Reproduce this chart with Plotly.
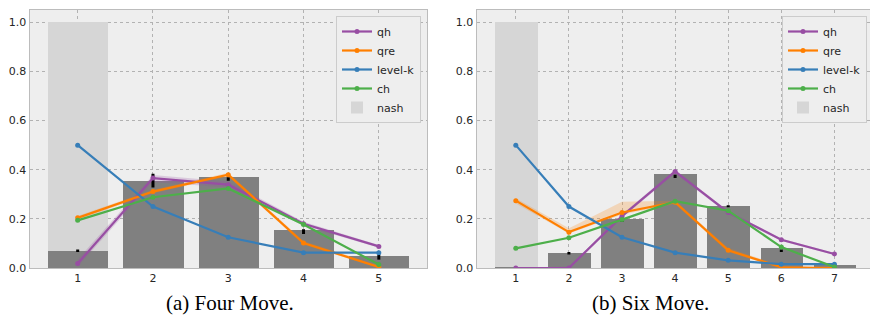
import plotly.graph_objects as go

# ---------------- data ----------------
moves_four = [1, 2, 3, 4, 5]
obs_four = [0.071, 0.355, 0.372, 0.153, 0.050]
nash_four = [1.0, 0.0, 0.0, 0.0, 0.0]
qh_four = [0.018, 0.366, 0.339, 0.180, 0.088]
qre_four = [0.204, 0.311, 0.380, 0.102, 0.004]
levelk_four = [0.5, 0.25, 0.125, 0.0625, 0.0625]
ch_four = [0.194, 0.288, 0.324, 0.177, 0.014]
err_mid_four = [0.070, 0.356, 0.362, 0.148, 0.044]
err_half_four = [0.005, 0.028, 0.007, 0.010, 0.010]

moves_six = [1, 2, 3, 4, 5, 6, 7]
obs_six = [0.004, 0.062, 0.200, 0.383, 0.253, 0.080, 0.014]
nash_six = [1.0, 0.0, 0.0, 0.0, 0.0, 0.0, 0.0]
qh_six = [0.0, 0.0, 0.211, 0.393, 0.226, 0.115, 0.057]
qre_six = [0.274, 0.146, 0.226, 0.268, 0.072, 0.003, 0.0]
levelk_six = [0.5, 0.25, 0.125, 0.0625, 0.03125, 0.015625, 0.015625]
ch_six = [0.080, 0.123, 0.197, 0.272, 0.233, 0.085, 0.004]
err_mid_six = [0.004, 0.060, 0.192, 0.373, 0.251, 0.070, 0.014]
err_half_six = [0.0, 0.005, 0.005, 0.007, 0.004, 0.005, 0.0]

# uncertainty bands around the model curves
qh_lo_four = [0.005, 0.350, 0.328, 0.172, 0.082]
qh_hi_four = [0.035, 0.378, 0.352, 0.188, 0.094]
qre_lo_four = [0.196, 0.304, 0.372, 0.095, 0.0]
qre_hi_four = [0.212, 0.318, 0.388, 0.110, 0.010]
qre_lo_six = [0.262, 0.140, 0.218, 0.260, 0.064, 0.0, 0.0]
qre_hi_six = [0.284, 0.162, 0.270, 0.274, 0.082, 0.008, 0.0]
qh_lo_six = [0.0, 0.0, 0.203, 0.385, 0.220, 0.110, 0.053]
qh_hi_six = [0.0, 0.006, 0.219, 0.401, 0.232, 0.120, 0.061]

captions = ["(a) Four Move.", "(b) Six Move."]

# ---------------- style ----------------
C_QH = "#984ea3"
C_QRE = "#ff7f00"
C_LK = "#377eb8"
C_CH = "#4daf4a"
C_OBS = "#808080"
C_NASH = "#d6d6d6"
BG = "#eeeeee"
SPINE = "#bcbcbc"
GRID = "#b2b2b2"
TXT = "#262626"

fig = go.Figure()


def rgba(hex_color, a):
    h = hex_color.lstrip("#")
    r, g, b = int(h[0:2], 16), int(h[2:4], 16), int(h[4:6], 16)
    return f"rgba({r},{g},{b},{a})"


def add_panel(xa, ya, leg, moves, obs, nash, series, bands, err_mid, err_half):
    # nash equilibrium bars (behind) and observed frequencies
    fig.add_trace(go.Bar(x=moves, y=nash, width=0.8, marker=dict(color=C_NASH, line_width=0),
                         name="nash", xaxis=xa, yaxis=ya, legend=leg, legendrank=5))
    fig.add_trace(go.Bar(x=moves, y=obs, width=0.8, marker=dict(color=C_OBS, line_width=0),
                         showlegend=False, xaxis=xa, yaxis=ya))
    # shaded bands
    for lo, hi, col in bands:
        fig.add_trace(go.Scatter(x=moves, y=lo, mode="lines", line=dict(width=0),
                                 showlegend=False, hoverinfo="skip", xaxis=xa, yaxis=ya))
        fig.add_trace(go.Scatter(x=moves, y=hi, mode="lines", line=dict(width=0),
                                 fill="tonexty", fillcolor=rgba(col, 0.22),
                                 showlegend=False, hoverinfo="skip", xaxis=xa, yaxis=ya))
    # error marks on observed bars
    fig.add_trace(go.Scatter(x=moves, y=err_mid, mode="markers",
                             marker=dict(size=1, color="rgba(0,0,0,0)"),
                             error_y=dict(type="data", array=err_half, color="black",
                                          thickness=3, width=0),
                             showlegend=False, xaxis=xa, yaxis=ya))
    # model predictions
    for rank, (name, vals, col) in enumerate(series):
        fig.add_trace(go.Scatter(x=moves, y=vals, mode="lines+markers", name=name,
                                 line=dict(color=col, width=2.2),
                                 marker=dict(color=col, size=5),
                                 xaxis=xa, yaxis=ya, legend=leg, legendrank=rank + 1))


add_panel("x", "y", "legend", moves_four, obs_four, nash_four,
          [("qh", qh_four, C_QH), ("qre", qre_four, C_QRE),
           ("level-k", levelk_four, C_LK), ("ch", ch_four, C_CH)],
          [(qh_lo_four, qh_hi_four, C_QH), (qre_lo_four, qre_hi_four, C_QRE)],
          err_mid_four, err_half_four)
add_panel("x2", "y2", "legend2", moves_six, obs_six, nash_six,
          [("qh", qh_six, C_QH), ("qre", qre_six, C_QRE),
           ("level-k", levelk_six, C_LK), ("ch", ch_six, C_CH)],
          [(qre_lo_six, qre_hi_six, C_QRE), (qh_lo_six, qh_hi_six, C_QH)],
          err_mid_six, err_half_six)

W, H = 870, 321
y_dom = [1 - 268 / H, 1 - 10 / H]

axis_common = dict(showgrid=True, gridcolor=GRID, griddash="dot", gridwidth=1,
                   showline=True, linecolor=SPINE, linewidth=1, mirror=True,
                   zeroline=False, ticks="", automargin=False,
                   tickfont=dict(family="DejaVu Sans", size=11, color=TXT))

legend_common = dict(bgcolor=BG, bordercolor="#cccccc", borderwidth=1,
                     font=dict(family="DejaVu Sans", size=11, color=TXT),
                     xanchor="right", yanchor="top", itemwidth=30, tracegroupgap=0,
                     traceorder="normal")

caption_font = dict(family="Liberation Serif", size=21, color="black")

fig.update_layout(
    width=W, height=H,
    margin=dict(l=0, r=0, t=0, b=0),
    paper_bgcolor="white",
    plot_bgcolor=BG,
    barmode="overlay",
    bargap=0,
    xaxis=dict(domain=[29.5 / W, 427 / W], range=[0.36, 5.64], tickvals=moves_four,
               anchor="y", **axis_common),
    yaxis=dict(domain=y_dom, range=[0, 1.05], tickvals=[0, 0.2, 0.4, 0.6, 0.8, 1.0],
               tickformat=".1f", anchor="x", **axis_common),
    xaxis2=dict(domain=[476.5 / W, 1.0], range=[0.26, 7.67], tickvals=moves_six,
                anchor="y2", **axis_common),
    yaxis2=dict(domain=y_dom, range=[0, 1.05], tickvals=[0, 0.2, 0.4, 0.6, 0.8, 1.0],
                tickformat=".1f", anchor="x2", **axis_common),
    legend=dict(x=421 / W, y=1 - 16 / H, **legend_common),
    legend2=dict(x=867 / W, y=1 - 16 / H, **legend_common),
    annotations=[
        dict(text=captions[0], x=230 / W, y=1 - 303 / H, xref="paper", yref="paper",
             xanchor="center", yanchor="middle", showarrow=False, font=caption_font),
        dict(text=captions[1], x=650 / W, y=1 - 303 / H, xref="paper", yref="paper",
             xanchor="center", yanchor="middle", showarrow=False, font=caption_font),
    ],
)

fig.write_html("out.html")
